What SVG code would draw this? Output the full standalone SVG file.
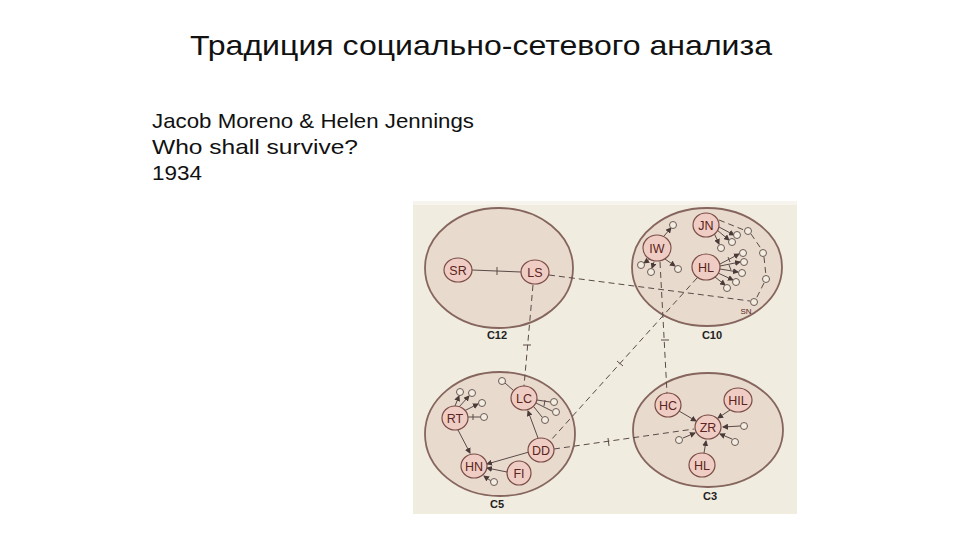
<svg xmlns="http://www.w3.org/2000/svg" width="960" height="540" viewBox="0 0 960 540">
<style>
.title{font-family:"Liberation Sans",Arial,sans-serif;font-size:28px;fill:#111}
.body{font-family:"Liberation Sans",Arial,sans-serif;font-size:21px;fill:#111}
.grp{fill:#e8dacd;stroke:#85655d;stroke-width:1.8}
.nd{fill:#f0cdc4;stroke:#7a4c46;stroke-width:1.2}
.sm{fill:#f3ece0;stroke:#6a5a55;stroke-width:1}
.lbl{font-family:"Liberation Sans",Arial,sans-serif;font-size:12.5px;fill:#5a2420;text-anchor:middle}
.cl{font-family:"Liberation Sans",Arial,sans-serif;font-size:11px;font-weight:bold;fill:#222;text-anchor:middle}
.ln{stroke:#5a4a48;stroke-width:1;fill:none}
.ds{stroke:#5a4a48;stroke-width:1;fill:none;stroke-dasharray:6 4}
.ar{marker-end:url(#ah)}
</style>
<defs>
<marker id="ah" markerWidth="6" markerHeight="6" refX="5" refY="3" orient="auto" markerUnits="userSpaceOnUse">
<path d="M0,0 L6,3 L0,6 z" fill="#4a3a38"/>
</marker>
</defs>
<rect width="960" height="540" fill="#ffffff"/>
<text class="title" x="190" y="55" textLength="582" lengthAdjust="spacingAndGlyphs">Традиция социально-сетевого анализа</text>
<text class="body" x="152" y="128" textLength="322" lengthAdjust="spacingAndGlyphs">Jacob Moreno &amp; Helen Jennings</text>
<text class="body" x="152" y="154" textLength="206" lengthAdjust="spacingAndGlyphs">Who shall survive?</text>
<text class="body" x="152" y="180" textLength="50" lengthAdjust="spacingAndGlyphs">1934</text>

<rect x="413" y="201" width="384" height="313" fill="#f1ece0"/>
<rect x="413" y="201" width="384" height="4" fill="#f7f4ee"/>

<g id="groups">
<ellipse class="grp" cx="499" cy="268" rx="74" ry="60"/>
<ellipse class="grp" cx="707" cy="267" rx="75" ry="59"/>
<ellipse class="grp" cx="500" cy="434" rx="75" ry="62"/>
<ellipse class="grp" cx="708" cy="430" rx="75" ry="57"/>
<text class="cl" x="497" y="339">C12</text>
<text class="cl" x="712" y="339">C10</text>
<text class="cl" x="497" y="508">C5</text>
<text class="cl" x="710" y="500">C3</text>
</g>

<g id="connectors">
<!-- C12 -->
<line class="ln" x1="472" y1="270" x2="521" y2="272"/>
<line class="ln" x1="497" y1="267" x2="497" y2="275"/>
<line class="ds" x1="549" y1="275" x2="750" y2="301"/>
<line class="ds" x1="533" y1="285" x2="524" y2="386"/>
<line class="ln" x1="523" y1="345" x2="531" y2="345"/>
<!-- C10 -->
<line class="ds ar" x1="664" y1="236" x2="671" y2="228"/>
<line class="ln ar" x1="650" y1="259" x2="644" y2="263"/>
<line class="ln ar" x1="654" y1="262" x2="652" y2="268"/>
<line class="ln ar" x1="665" y1="259" x2="675" y2="266"/>
<line class="ds" x1="660" y1="262" x2="667" y2="393"/>
<line class="ln" x1="661" y1="340" x2="669" y2="340"/>
<line class="ln ar" x1="714" y1="233" x2="719" y2="244"/>
<line class="ln ar" x1="717" y1="230" x2="729" y2="240"/>
<line class="ln ar" x1="719" y1="227" x2="734" y2="235"/>
<line class="ds" x1="719" y1="220" x2="744" y2="230"/>
<path class="ds" d="M751,234 L762,250 M764,257 L766,276 M764,283 L756,299"/>
<line class="ln ar" x1="720" y1="264" x2="739" y2="254"/>
<line class="ln ar" x1="720" y1="266" x2="740" y2="262"/>
<line class="ln ar" x1="720" y1="269" x2="738" y2="272"/>
<line class="ln ar" x1="718" y1="273" x2="733" y2="280"/>
<line class="ln ar" x1="715" y1="277" x2="725" y2="285"/>
<line class="ln" x1="728" y1="257" x2="730" y2="262"/>
<line class="ln" x1="729" y1="265" x2="731" y2="270"/>
<line class="ds" x1="697" y1="278" x2="551" y2="440"/>
<line class="ln" x1="617" y1="361" x2="623" y2="366"/>
<!-- C5 -->
<line class="ln" x1="505" y1="383" x2="513" y2="390"/>
<line class="ln ar" x1="455" y1="406" x2="459" y2="396"/>
<line class="ln ar" x1="459" y1="407" x2="469" y2="396"/>
<line class="ln ar" x1="464" y1="411" x2="478" y2="404"/>
<line class="ln" x1="467" y1="417" x2="480" y2="417"/>
<line class="ln" x1="473" y1="414" x2="473" y2="420"/>
<line class="ln" x1="537" y1="400" x2="550" y2="402"/>
<line class="ln" x1="536" y1="403" x2="552" y2="411"/>
<line class="ln" x1="534" y1="407" x2="542" y2="417"/>
<line class="ln" x1="545" y1="400" x2="544" y2="406"/>
<line class="ln ar" x1="458" y1="430" x2="470" y2="453"/>
<line class="ln ar" x1="529" y1="452" x2="487" y2="464"/>
<line class="ln ar" x1="507" y1="472" x2="487" y2="468"/>
<line class="ln ar" x1="491" y1="481" x2="484" y2="476"/>
<line class="ln ar" x1="538" y1="438" x2="528" y2="411"/>
<line class="ds" x1="554" y1="449" x2="694" y2="429"/>
<line class="ln" x1="608" y1="438" x2="609" y2="446"/>
<!-- C3 -->
<line class="ln ar" x1="679" y1="411" x2="696" y2="421"/>
<line class="ln ar" x1="730" y1="410" x2="718" y2="418"/>
<line class="ln ar" x1="740" y1="426" x2="723" y2="427"/>
<line class="ln ar" x1="732" y1="439" x2="720" y2="434"/>
<line class="ln ar" x1="683" y1="438" x2="695" y2="433"/>
<line class="ln ar" x1="704" y1="453" x2="706" y2="441"/>
</g>

<g id="node-SR"><ellipse class="nd" cx="458" cy="270" rx="14" ry="12"/><text class="lbl" x="458" y="274.5">SR</text></g>
<g id="node-LS"><ellipse class="nd" cx="535" cy="272" rx="14" ry="12"/><text class="lbl" x="535" y="276.5">LS</text></g>
<g id="node-IW"><ellipse class="nd" cx="657" cy="248" rx="14" ry="13"/><text class="lbl" x="657" y="252.5">IW</text></g>
<g id="node-JN"><ellipse class="nd" cx="706" cy="225" rx="13" ry="12"/><text class="lbl" x="706" y="229.5">JN</text></g>
<g id="node-HL10"><ellipse class="nd" cx="706" cy="267" rx="14" ry="13"/><text class="lbl" x="706" y="271.5">HL</text></g>
<g id="node-SN"><circle class="sm" cx="754" cy="302" r="3.5"/><text class="lbl" x="746" y="314" style="font-size:8px">SN</text></g>
<g id="small-C10">
<circle class="sm" cx="673" cy="225" r="3.5"/>
<circle class="sm" cx="641" cy="265" r="3.5"/>
<circle class="sm" cx="651" cy="272" r="3.5"/>
<circle class="sm" cx="678" cy="269" r="3.5"/>
<circle class="sm" cx="721" cy="248" r="3.5"/>
<circle class="sm" cx="732" cy="242" r="3.5"/>
<circle class="sm" cx="737" cy="235" r="3.5"/>
<circle class="sm" cx="748" cy="231" r="3.5"/>
<circle class="sm" cx="763" cy="253" r="3.5"/>
<circle class="sm" cx="766" cy="279" r="3.5"/>
<circle class="sm" cx="743" cy="253" r="3.5"/>
<circle class="sm" cx="744" cy="262" r="3.5"/>
<circle class="sm" cx="742" cy="273" r="3.5"/>
<circle class="sm" cx="736" cy="282" r="3.5"/>
<circle class="sm" cx="727" cy="288" r="3.5"/>
</g>
<g id="node-LC"><ellipse class="nd" cx="524" cy="398" rx="13" ry="12"/><text class="lbl" x="524" y="402.5">LC</text></g>
<g id="node-RT"><ellipse class="nd" cx="455" cy="418" rx="13" ry="12"/><text class="lbl" x="455" y="422.5">RT</text></g>
<g id="node-DD"><ellipse class="nd" cx="541" cy="450" rx="13" ry="12"/><text class="lbl" x="541" y="454.5">DD</text></g>
<g id="node-HN"><ellipse class="nd" cx="474" cy="466" rx="13" ry="12"/><text class="lbl" x="474" y="470.5">HN</text></g>
<g id="node-FI"><ellipse class="nd" cx="519" cy="473" rx="12" ry="12"/><text class="lbl" x="519" y="477.5">FI</text></g>
<g id="small-C5">
<circle class="sm" cx="502" cy="381" r="3.5"/>
<circle class="sm" cx="460" cy="392" r="3.5"/>
<circle class="sm" cx="472" cy="393" r="3.5"/>
<circle class="sm" cx="482" cy="403" r="3.5"/>
<circle class="sm" cx="484" cy="417" r="3.5"/>
<circle class="sm" cx="554" cy="402" r="3.5"/>
<circle class="sm" cx="556" cy="412" r="3.5"/>
<circle class="sm" cx="545" cy="420" r="3.5"/>
<circle class="sm" cx="494" cy="482" r="3.5"/>
</g>
<g id="node-HC"><ellipse class="nd" cx="668" cy="405" rx="13" ry="12"/><text class="lbl" x="668" y="409.5">HC</text></g>
<g id="node-HIL"><ellipse class="nd" cx="738" cy="400" rx="14" ry="12"/><text class="lbl" x="738" y="404.5">HIL</text></g>
<g id="node-ZR"><ellipse class="nd" cx="708" cy="427" rx="13" ry="12"/><text class="lbl" x="708" y="431.5">ZR</text></g>
<g id="node-HL3"><ellipse class="nd" cx="702" cy="465" rx="13" ry="12"/><text class="lbl" x="702" y="469.5">HL</text></g>
<g id="small-C3">
<circle class="sm" cx="744" cy="426" r="3.5"/>
<circle class="sm" cx="679" cy="440" r="3.5"/>
<circle class="sm" cx="735" cy="442" r="3.5"/>
</g>
</svg>
